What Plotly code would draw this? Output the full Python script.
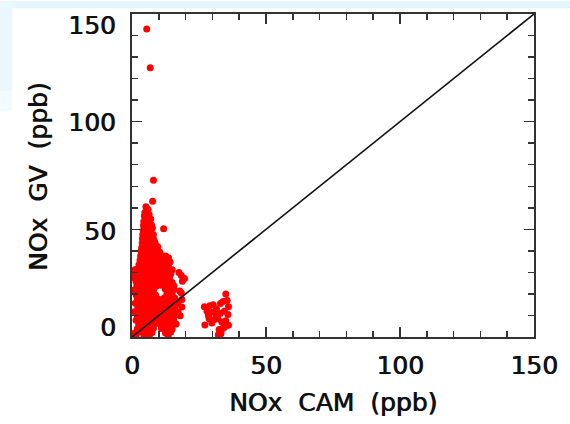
import plotly.graph_objects as go

# ---- data (ppb) ----
# isolated high GV values
cam_high = [5.5, 6.8, 8.0, 7.7, 11.8]
gv_high = [143.0, 125.0, 72.8, 63.0, 50.3]

# main cluster (CAM 0-20 ppb)
cam_main = [
    5.2, 6.0,
    4.8, 5.9,
    4.6, 5.5, 6.4,
    4.4, 5.3, 6.3, 7.0,
    4.3, 5.2, 6.2, 7.3,
    4.2, 5.5, 6.6, 7.6,
    4.0, 5.0, 6.0, 7.2, 8.0,
    3.9, 5.1, 6.3, 7.5, 8.2,
    3.8, 5.0, 6.2, 7.4, 8.6,
    3.6, 4.8, 6.0, 7.3, 8.5, 9.6,
    3.4, 4.6, 5.8, 7.0, 8.2, 9.5, 10.4,
    3.2, 4.5, 6.0, 7.5, 9.0, 10.5, 12.5, 13.6,
    3.0, 4.4, 5.8, 7.2, 8.6, 10.0, 11.5, 13.0, 14.2,
    2.6, 4.2, 5.6, 7.0, 8.5, 10.2, 11.8, 13.4,
    1.2, 2.8, 4.4, 6.0, 7.5, 9.0, 10.5, 12.2, 13.6, 15.0,
    0.8, 2.2, 3.8, 5.4, 7.0, 8.6, 10.0, 11.6, 13.2, 14.5, 17.5,
    0.6, 2.4, 4.2, 6.0, 7.8, 9.4, 11.0, 12.6, 14.0, 18.4, 19.6,
    1.5, 3.2, 5.0, 6.8, 8.6, 10.4, 12.0, 13.6, 15.0, 18.8,
    1.8, 3.6, 5.4, 7.2, 9.0, 10.8, 12.6, 14.2, 15.6,
    0.8, 2.6, 4.4, 6.2, 8.0, 12.4, 14.0, 15.6, 17.8,
    1.5, 3.4, 5.2, 7.0, 8.8, 13.0, 15.0, 18.4,
    2.0, 4.0, 6.0, 8.0, 10.0, 12.0, 14.0, 16.0, 18.6,
    1.2, 3.0, 5.0, 7.0, 9.0, 11.0, 13.0, 15.0, 17.0,
    2.2, 4.2, 6.2, 8.2, 10.2, 12.2, 14.2, 16.2, 18.6,
    1.0, 3.0, 5.0, 7.0, 9.0, 11.0, 13.0, 15.0, 17.2,
    2.0, 4.0, 6.0, 8.0, 10.0, 12.0, 14.0, 16.0, 18.0,
    1.5, 3.5, 5.5, 7.5, 9.5, 11.5, 13.5, 15.5,
    2.5, 4.5, 6.5, 8.5, 10.5, 12.5, 14.5, 16.5,
    2.0, 4.0, 6.0, 8.0, 11.0, 13.0, 15.0,
    1.0, 3.5, 5.5, 7.5, 12.5, 14.5,
    1.5, 4.5, 6.5, 13.5,
]
gv_main = [
    60.5, 59.2,
    57.8, 58.3,
    56.2, 55.4, 56.8,
    53.6, 54.4, 53.1, 54.8,
    51.8, 52.5, 51.2, 52.0,
    49.5, 50.3, 49.1, 50.6,
    47.6, 48.4, 47.2, 48.0, 47.5,
    45.8, 46.3, 45.4, 46.6, 45.1,
    43.6, 44.2, 43.4, 44.5, 43.8,
    41.5, 42.3, 41.8, 42.0, 41.4, 41.9,
    39.8, 40.4, 39.5, 40.1, 39.6, 40.2, 39.3,
    37.6, 38.2, 37.9, 38.4, 37.5, 38.0, 37.6, 36.8,
    35.7, 36.3, 35.5, 36.1, 35.8, 36.4, 35.6, 35.2, 34.8,
    33.5, 34.3, 33.8, 34.1, 33.6, 34.0, 33.4, 33.1,
    31.4, 32.3, 31.8, 32.0, 31.6, 32.2, 31.5, 31.9, 32.4, 31.2,
    29.6, 30.3, 29.8, 30.1, 29.5, 30.2, 29.7, 30.4, 29.9, 29.4, 30.0,
    27.6, 28.2, 27.8, 28.0, 27.5, 28.3, 27.7, 28.1, 27.4, 28.6, 27.2,
    25.8, 26.3, 25.5, 26.1, 25.7, 26.2, 25.6, 26.0, 25.3, 25.9,
    23.7, 24.2, 23.9, 24.4, 23.6, 24.0, 23.5, 24.1, 23.8,
    21.8, 22.2, 21.5, 22.1, 21.7, 22.3, 21.6, 22.0, 21.4,
    19.6, 20.3, 19.8, 20.1, 19.5, 20.0, 19.7, 20.4,
    17.8, 18.2, 17.6, 18.3, 17.5, 18.1, 17.7, 18.0, 17.4,
    15.7, 16.2, 15.9, 16.1, 15.6, 16.3, 15.8, 16.0, 15.5,
    13.8, 14.1, 13.6, 14.3, 13.7, 14.0, 13.5, 14.2, 13.9,
    11.7, 12.2, 11.9, 12.1, 11.6, 12.3, 11.8, 12.0, 11.5,
    9.8, 10.2, 9.6, 10.3, 9.7, 10.1, 9.5, 10.0, 9.9,
    7.8, 8.2, 7.6, 8.1, 7.7, 8.3, 7.9, 8.0,
    5.8, 6.2, 5.6, 6.1, 5.9, 6.3, 5.7, 6.0,
    3.8, 4.2, 3.6, 4.1, 3.9, 4.3, 3.7,
    1.8, 2.2, 1.6, 2.1, 1.9, 2.3,
    0.6, 0.4, 0.8, 0.5,
]

# secondary cluster (CAM ~27-37 ppb)
cam_right = [27.0, 28.0, 29.0, 30.3, 31.5, 33.0, 34.0, 35.0, 35.5, 36.0,
             35.8, 34.5, 33.0, 31.5, 30.0, 28.5, 27.2, 28.8, 30.5, 32.0,
             33.5, 35.0, 36.0, 34.5, 32.5, 33.8, 32.2, 33.2, 29.8]
gv_right = [14.0, 12.0, 14.5, 15.0, 13.0, 15.5, 16.5, 20.0, 17.0, 14.0,
            10.5, 12.0, 11.0, 10.0, 11.5, 10.0, 5.6, 8.5, 8.0, 8.5,
            7.0, 7.5, 5.5, 4.5, 3.5, 4.0, 1.0, 1.5, 6.5]

# 1:1 reference line
one_to_one = [0, 150]

axis_range = [0, 150]
major_ticks = [0, 50, 100, 150]
tick_labels = ["0", "50", "100", "150"]

# ---- style ----
FONT = "DejaVu Sans"
FSIZE = 25
AXC = "#333333"
ytick_nudge = [10, -2, -1, -11]   # IDL-style label offsets (px)

cam_all = cam_main + cam_right + cam_high
gv_all = gv_main + gv_right + gv_high

fig = go.Figure()
fig.add_trace(go.Scatter(
    x=cam_all, y=gv_all, mode="markers",
    marker=dict(color="#ff0000", size=7, line=dict(width=0)),
    showlegend=False, hoverinfo="skip",
))
fig.add_trace(go.Scatter(
    x=one_to_one, y=one_to_one, mode="lines",
    line=dict(color="#111111", width=1.6),
    showlegend=False, hoverinfo="skip",
))

tfont = dict(family=FONT, size=FSIZE, color="#111111",
             shadow="0.8px 0 0 #111111")

axis_common = dict(
    range=axis_range, tickvals=major_ticks, ticktext=tick_labels,
    ticks="inside", ticklen=10,
    tickwidth=1.5, tickcolor=AXC, mirror="allticks", showline=True,
    linecolor=AXC, linewidth=2, showgrid=False, zeroline=False,
    tickfont=tfont,
    minor=dict(ticks="inside", ticklen=6, dtick=10, tickwidth=1.5,
               tickcolor=AXC, showgrid=False),
)

annotations = [
    dict(text=lab, x=-0.035, xref="paper", xanchor="right",
         y=val, yref="y", yanchor="middle", yshift=nudge,
         showarrow=False, font=tfont)
    for val, lab, nudge in zip(major_ticks, tick_labels, ytick_nudge)
]
annotations.append(dict(
    text="NOx  GV  (ppb)", x=-0.233, xref="paper", xanchor="center",
    y=0.496, yref="paper", yanchor="middle", textangle=-90,
    showarrow=False, font=tfont))

fig.update_layout(
    width=570, height=424,
    margin=dict(l=132, r=35, t=12, b=85),
    paper_bgcolor="white", plot_bgcolor="white",
    xaxis=dict(**axis_common, ticklabelstandoff=5, ticklabeloverflow="allow",
               title=dict(text="NOx  CAM  (ppb)", font=tfont, standoff=14)),
    yaxis=dict(**axis_common, showticklabels=False),
    annotations=annotations,
    shapes=[
        dict(type="rect", xref="paper", yref="paper", layer="below",
             x0=-0.33, x1=1.09, y0=1.018, y1=1.04,
             fillcolor="#e6f6fd", line=dict(width=0)),
        dict(type="rect", xref="paper", yref="paper", layer="below",
             x0=-0.33, x1=-0.298, y0=0.76, y1=1.04,
             fillcolor="#eaf8fe", line=dict(width=0)),
        dict(type="rect", xref="paper", yref="paper", layer="below",
             x0=-0.33, x1=-0.298, y0=0.70, y1=0.76,
             fillcolor="#f4fbfe", line=dict(width=0)),
    ],
)

fig.write_html("out.html",
               config={"displayModeBar": False, "staticPlot": True},
               post_script="document.body.style.margin='0';"
                           "document.body.style.overflow='hidden';")
